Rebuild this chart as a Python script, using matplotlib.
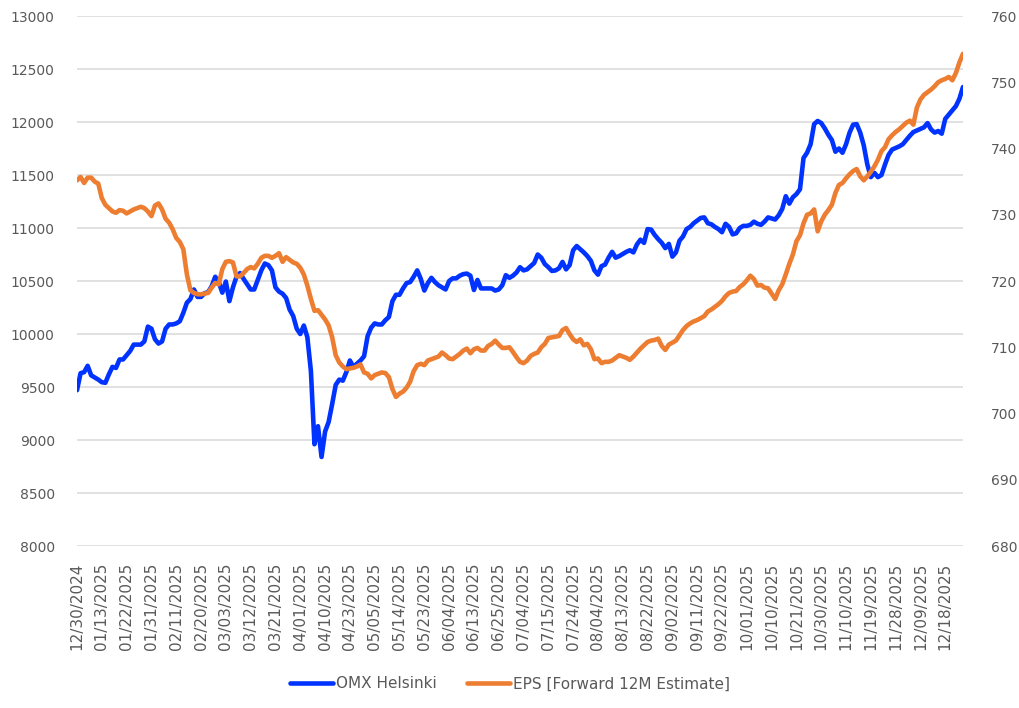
import matplotlib
matplotlib.use("Agg")
import matplotlib.pyplot as plt
import numpy as np
import pandas as pd

# Helsinki trading days 30.12.2024 - 30.12.2025 (exchange holidays removed)
holidays = ["2024-12-31", "2025-01-01", "2025-01-06", "2025-04-18", "2025-04-21",
            "2025-05-01", "2025-05-29", "2025-06-20", "2025-12-24", "2025-12-25",
            "2025-12-26"]
dates = pd.bdate_range("2024-12-30", "2025-12-30")
dates = dates[~dates.isin(pd.to_datetime(holidays))]

# OMX Helsinki index (left axis)
omx = [9470, 9630, 9640, 9700, 9610, 9590, 9570, 9545, 9540, 9620,
       9690, 9680, 9760, 9760, 9800, 9840, 9900, 9900, 9900, 9930,
       10070, 10050, 9950, 9910, 9930, 10050, 10090, 10090, 10100, 10120,
       10200, 10295, 10330, 10420, 10350, 10350, 10385, 10395, 10450, 10540,
       10490, 10390, 10495, 10310, 10440, 10540, 10575, 10520, 10470, 10420,
       10420, 10510, 10600, 10665, 10650, 10600, 10440, 10400, 10380, 10340,
       10230, 10170, 10050, 10000, 10080, 9970, 9650, 8960, 9130, 8840,
       9080, 9170, 9340, 9520, 9570, 9560, 9640, 9750, 9690, 9720,
       9750, 9790, 9980, 10060, 10100, 10090, 10090, 10130, 10160, 10310,
       10370, 10370, 10430, 10480, 10490, 10540, 10600, 10520, 10410, 10480,
       10530, 10490, 10460, 10440, 10420, 10500, 10525, 10525, 10550, 10565,
       10570, 10550, 10415, 10510, 10430, 10430, 10430, 10430, 10410, 10420,
       10460, 10555, 10530, 10550, 10580, 10630, 10600, 10610, 10640, 10670,
       10750, 10720, 10660, 10630, 10595, 10600, 10620, 10680, 10610, 10650,
       10790, 10830, 10800, 10770, 10735, 10690, 10600, 10560, 10640, 10655,
       10720, 10775, 10720, 10735, 10755, 10775, 10790, 10770, 10845, 10890,
       10860, 10990, 10985, 10935, 10895, 10860, 10810, 10850, 10730, 10770,
       10880, 10920, 10990, 11010, 11045, 11070, 11095, 11100, 11045, 11035,
       11010, 10990, 10960, 11040, 11010, 10940, 10950, 11000, 11020, 11020,
       11030, 11060, 11040, 11030, 11060, 11100, 11090, 11080, 11120, 11180,
       11300, 11230, 11290, 11320, 11365, 11660, 11710, 11790, 11980, 12010,
       11990, 11940, 11880, 11830, 11720, 11750, 11710, 11790, 11900, 11975,
       11980, 11900, 11780, 11600, 11480, 11520, 11480, 11500, 11600, 11690,
       11740, 11755, 11770, 11790, 11830, 11870, 11905, 11920, 11935, 11950,
       11990, 11930, 11900, 11915, 11890, 12030, 12070, 12110, 12150, 12220,
       12330]

# EPS forward 12M estimate (right axis)
eps = [735.2, 735.7, 734.8, 735.6, 735.6, 735.0, 734.7, 732.5, 731.5, 731.0,
       730.5, 730.3, 730.7, 730.6, 730.2, 730.5, 730.8, 731.0, 731.2, 731.0,
       730.5, 729.8, 731.4, 731.7, 730.8, 729.4, 728.8, 727.8, 726.5, 725.9,
       724.8, 721.0, 718.6, 718.2, 718.0, 718.0, 718.1, 718.2, 719.0, 719.7,
       719.5, 721.8, 722.9, 723.0, 722.8, 720.7, 720.7, 721.2, 721.8, 722.1,
       721.9, 722.6, 723.5, 723.8, 723.8, 723.5, 723.8, 724.2, 722.9, 723.6,
       723.2, 722.8, 722.6, 722.0, 721.0, 719.3, 717.3, 715.5, 715.6, 714.9,
       714.2, 713.3, 711.5, 708.8, 707.7, 707.1, 706.7, 706.8, 706.9, 707.1,
       707.4, 706.2, 706.0, 705.3, 705.8, 706.0, 706.2, 706.1, 705.5, 703.7,
       702.5, 703.0, 703.3, 703.9, 704.8, 706.4, 707.3, 707.5, 707.3, 708.0,
       708.2, 708.4, 708.6, 709.2, 708.8, 708.3, 708.2, 708.6, 709.0, 709.5,
       709.8, 709.1, 709.7, 709.9, 709.5, 709.5, 710.2, 710.5, 711.0, 710.4,
       709.9, 709.9, 710.0, 709.3, 708.5, 707.8, 707.6, 708.0, 708.7, 709.0,
       709.2, 710.0, 710.5, 711.4, 711.5, 711.6, 711.7, 712.6, 712.9, 712.0,
       711.2, 710.8, 711.2, 710.3, 710.5, 709.7, 708.2, 708.3, 707.6, 707.8,
       707.8, 708.0, 708.4, 708.8, 708.6, 708.4, 708.1, 708.6, 709.2, 709.8,
       710.3, 710.8, 711.0, 711.1, 711.3, 710.2, 709.6, 710.4, 710.7, 711.0,
       711.8, 712.6, 713.2, 713.6, 713.9, 714.1, 714.4, 714.7, 715.4, 715.7,
       716.1, 716.5, 717.0, 717.7, 718.2, 718.4, 718.5, 719.1, 719.5, 720.1,
       720.8, 720.3, 719.3, 719.4, 719.0, 718.9, 718.1, 717.3, 718.6, 719.5,
       721.0, 722.6, 724.0, 726.0, 726.9, 728.7, 730.0, 730.2, 730.8, 727.5,
       729.0, 730.0, 730.7, 731.5, 733.3, 734.5, 734.8, 735.5, 736.1, 736.6,
       736.9, 735.8, 735.2, 735.8, 736.5, 737.3, 738.3, 739.6, 740.2, 741.4,
       742.0, 742.5, 742.9, 743.4, 743.9, 744.2, 743.6, 746.2, 747.4, 748.1,
       748.5, 748.9, 749.4, 750.0, 750.3, 750.5, 750.8, 750.3, 751.4, 753.0,
       754.3]

txt = '#595959'
plt.rcParams['font.family'] = 'DejaVu Sans'

fig = plt.figure(figsize=(10.2, 7.08), dpi=100)
ax = fig.add_axes([0.0755, 0.2288, 0.8686, 0.7486])
ax2 = ax.twinx()

x = np.arange(len(dates))
l1, = ax.plot(x, omx, color='#0033FF', lw=3.3, solid_capstyle='round', solid_joinstyle='round',
              label='OMX Helsinki')
l2, = ax2.plot(x, eps, color='#ED7D31', lw=3.3, solid_capstyle='round', solid_joinstyle='round',
               label='EPS [Forward 12M Estimate]')

ax.set_xlim(0, len(dates) - 1)
ax.set_ylim(8000, 13000)
ax.set_yticks(np.arange(8000, 13001, 500))
ax2.set_ylim(680, 760)
ax2.set_yticks(np.arange(680, 761, 10))

tick_pos = x[::7]
ax.set_xticks(tick_pos)
ax.set_xticklabels([dates[i].strftime('%m/%d/%Y') for i in tick_pos], rotation=90)

ax.grid(axis='y', color='#D9D9D9', lw=1.1)
ax.set_axisbelow(True)
for a in (ax, ax2):
    for s in a.spines.values():
        s.set_visible(False)
    a.tick_params(length=0, colors=txt)
ax.tick_params(axis='y', labelsize=10, pad=16)
ax2.tick_params(axis='y', labelsize=10, pad=20)
ax.tick_params(axis='x', labelsize=11, pad=12)

fig.legend(handles=[l1, l2], loc='center', bbox_to_anchor=(0.5, 0.034), ncol=2,
           frameon=False, fontsize=11, labelcolor=txt, handlelength=2.8,
           handletextpad=0.2, columnspacing=2.0)

fig.savefig('out.png', dpi=100)
